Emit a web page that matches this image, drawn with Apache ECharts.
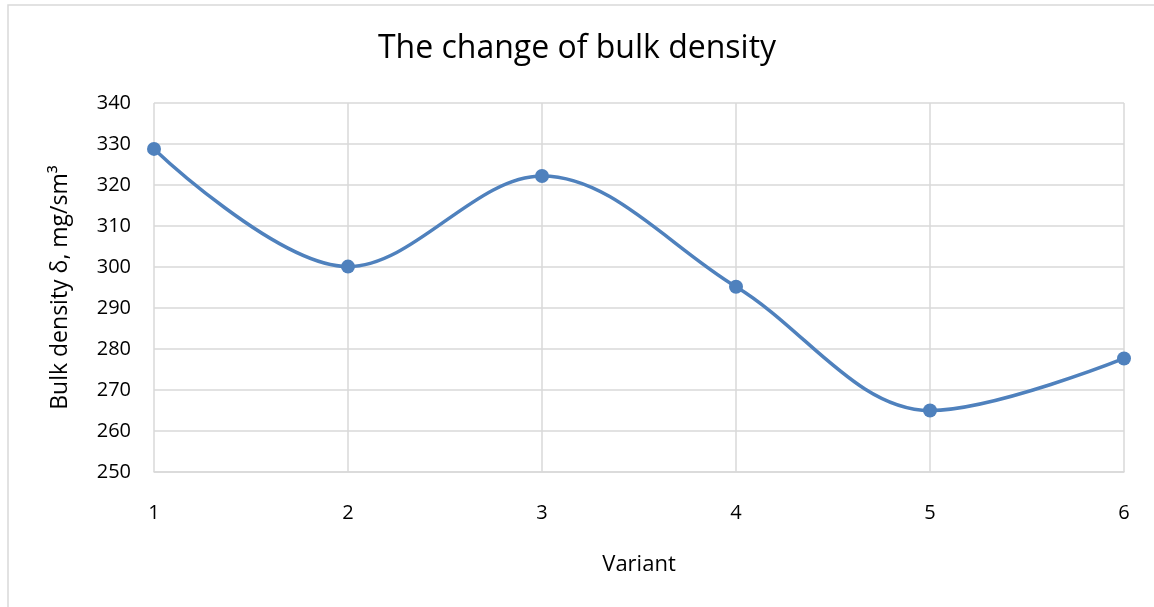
<!DOCTYPE html>
<html>
<head>
<meta charset="utf-8">
<script src="https://cdn.jsdelivr.net/npm/echarts@6/dist/echarts.min.js"></script>
<style>
  html, body { margin: 0; padding: 0; background: #fff; }
  #chart { width: 1154px; height: 607px; }
</style>
</head>
<body>
<div id="chart"></div>
<script>
// data
const variants = ['1', '2', '3', '4', '5', '6']
const bulkDensity = [328.8, 300.1, 322.2, 295.2, 265.0, 277.7]

const chart = echarts.init(document.getElementById('chart'))
const font = 'Open Sans, Liberation Sans, sans-serif'

chart.setOption({
  backgroundColor: '#fff',
  animation: false,
  graphic: [{
    type: 'rect',
    shape: { x: 8, y: 5, width: 1160, height: 620 },
    style: { fill: 'none', stroke: '#d9d9d9', lineWidth: 1.5 }
  }],
  title: {
    text: 'The change of bulk density',
    left: 'center',
    top: 28,
    textStyle: { fontFamily: font, fontSize: 32, fontWeight: 'normal', color: '#000' }
  },
  grid: { left: 154, right: 30, top: 103, bottom: 135 },
  xAxis: {
    type: 'category',
    data: variants,
    boundaryGap: false,
    name: 'Variant',
    nameLocation: 'middle',
    nameGap: 82,
    nameTextStyle: { fontFamily: font, fontSize: 22, color: '#000' },
    axisLine: { lineStyle: { color: '#d9d9d9', width: 1.5 } },
    axisTick: { show: false },
    axisLabel: { fontFamily: font, fontSize: 20, color: '#000', margin: 31 },
    splitLine: { show: true, lineStyle: { color: '#d9d9d9', width: 1.5 } }
  },
  yAxis: {
    type: 'value',
    min: 250,
    max: 340,
    interval: 10,
    name: 'Bulk density δ, mg/sm³',
    nameLocation: 'middle',
    nameGap: 82,
    nameTextStyle: { fontFamily: font, fontSize: 23, color: '#000' },
    axisLine: { show: false },
    axisTick: { show: false },
    axisLabel: { fontFamily: font, fontSize: 20, color: '#000', margin: 23 },
    splitLine: { lineStyle: { color: '#d9d9d9', width: 1.5 } }
  },
  series: [{
    type: 'line',
    data: bulkDensity,
    smooth: 0.35,
    symbol: 'circle',
    symbolSize: 14,
    lineStyle: { color: '#4f81bd', width: 3.5 },
    itemStyle: { color: '#4f81bd' }
  }]
})
</script>
</body>
</html>
